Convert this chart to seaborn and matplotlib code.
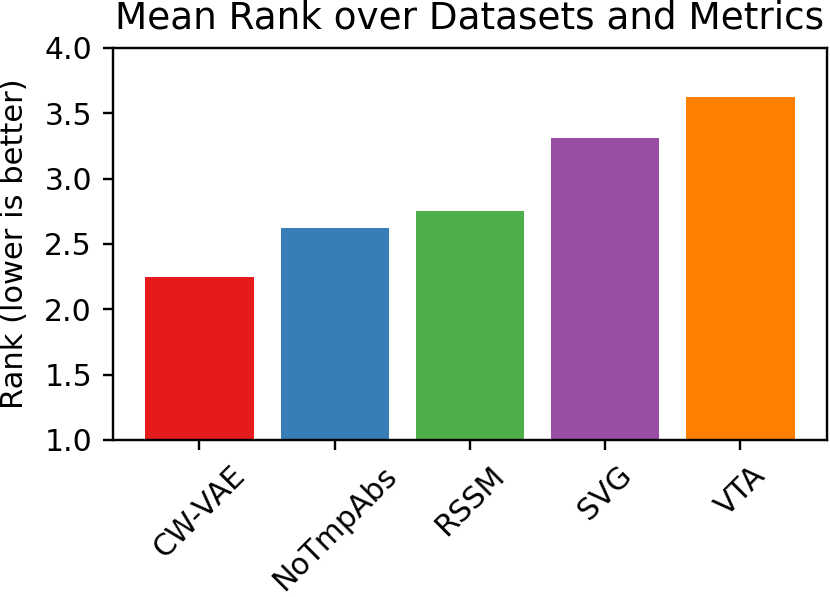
import numpy as np
import pandas as pd
import matplotlib
matplotlib.use("Agg")
import matplotlib.pyplot as plt
import seaborn as sns

# Data
models = ["CW-VAE", "NoTmpAbs", "RSSM", "SVG", "VTA"]
mean_rank = [2.25, 2.625, 2.75, 3.3125, 3.625]
y_ticks = [1.0, 1.5, 2.0, 2.5, 3.0, 3.5, 4.0]

# the reference looks like a plain matplotlib figure saved at a high dpi,
# so scale the default sizes up for a 100 dpi canvas
scale = 2.15
plt.rcParams['font.family'] = ['DejaVu Sans']
plt.rcParams['text.color'] = 'black'
plt.rcParams['axes.labelcolor'] = 'black'

df = pd.DataFrame({"model": models, "rank": mean_rank})
palette = sns.color_palette("Set1", 5)

figure, axes = plt.subplots(figsize = (8.3, 5.97), dpi = 100)
figure.subplots_adjust(left = 0.136, right = 0.9964, bottom = 0.263, top = 0.9196)

sns.barplot(data = df, x = "model", y = "rank", hue = "model", palette = palette,
            width = 0.8, saturation = 1, legend = False, ax = axes)

axes.set_xlim(-0.64, 4.64)
axes.set_ylim(1.0, 4.0)
axes.set_yticks(y_ticks)
axes.set_yticklabels([f"{v:.1f}" for v in y_ticks])
axes.set_xlabel("")
axes.set_ylabel("Rank (lower is better)", fontsize = 10.2 * scale, labelpad = 11)
axes.set_title("Mean Rank over Datasets and Metrics", fontsize = 12.5 * scale, pad = 6.5 * scale)
axes.tick_params(axis = 'both', labelsize = 10 * scale, width = 0.8 * scale,
                 length = 3.5 * scale, pad = 3.5 * scale, color = 'black', labelcolor = 'black')
plt.setp(axes.get_xticklabels(), rotation = 45)
for spine in axes.spines.values():
    spine.set_visible(True)
    spine.set_color('black')
    spine.set_linewidth(0.8 * scale)

figure.savefig("out.png", dpi = 100)
